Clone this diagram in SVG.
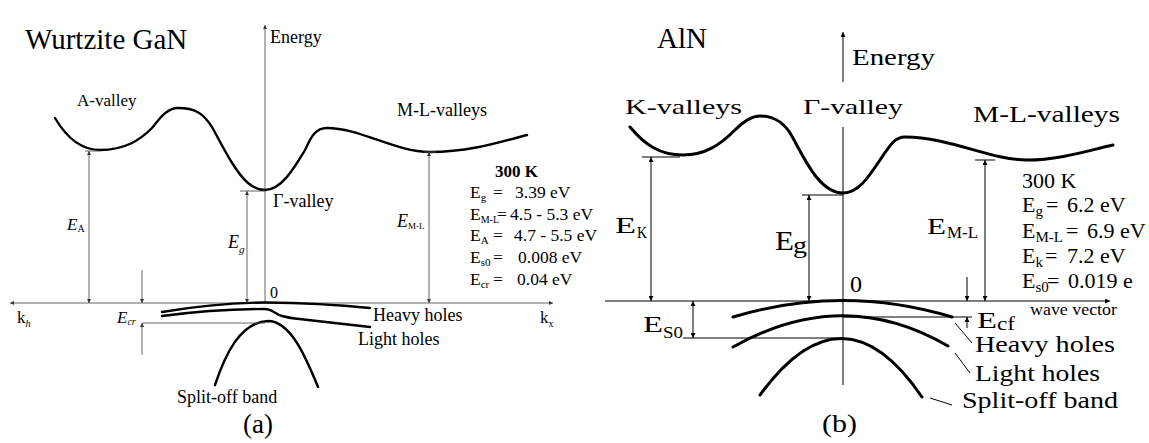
<svg xmlns="http://www.w3.org/2000/svg" width="1149" height="443" viewBox="0 0 1149 443" font-family="'Liberation Serif', 'DejaVu Serif', serif">
<style>
text{font-family:'Liberation Serif','DejaVu Serif',serif;fill:#000}
.thin{stroke:#555;stroke-width:0.9;fill:none}
.thinB{stroke:#000;stroke-width:1;fill:none}
.band{stroke:#000;stroke-width:2.4;fill:none;stroke-linecap:round}
.bandB{stroke:#000;stroke-width:3;fill:none;stroke-linecap:round}
.it{font-style:italic}
</style>
<defs>
<marker id="ah" viewBox="0 0 10 10" refX="10" refY="5" markerUnits="userSpaceOnUse" markerWidth="6" markerHeight="4" orient="auto-start-reverse"><path d="M0,0 L10,5 L0,10 z" fill="#333"/></marker>
<marker id="ahL" viewBox="0 0 10 10" refX="10" refY="5" markerUnits="userSpaceOnUse" markerWidth="9" markerHeight="5" orient="auto-start-reverse"><path d="M0,0 L10,5 L0,10 z" fill="#000"/></marker>
</defs>
<rect width="1149" height="443" fill="#fff"/>

<!-- Panel (a) GaN -->
<g id="gan">
  <text x="25" y="49" font-size="29">Wurtzite GaN</text>
  <g id="gan-axes">
    <line class="thin" x1="265" y1="303" x2="265" y2="25" marker-end="url(#ah)"/>
    <line class="thin" x1="265" y1="303" x2="10" y2="303" marker-end="url(#ah)"/>
    <line class="thin" x1="265" y1="303" x2="553" y2="303" marker-end="url(#ah)"/>
    <text x="270" y="43" font-size="18">Energy</text>
    <text x="270" y="298" font-size="16">0</text>
    <text x="17" y="323" font-size="17">k<tspan font-size="10" dy="4" class="it">h</tspan></text>
    <text x="540" y="323" font-size="17">k<tspan font-size="10" dy="4">x</tspan></text>
  </g>
  <g id="gan-conduction">
    <path class="band" d="M55,118 C65,135 80,150 100,150 C125,150 140,140 152,128 C160,118 167,108 178,108 C195,108 203,113 212,127 C222,145 235,172 248,183 C254,188 259,190 265,190 C282,190 296,165 305,150 C310,140 314,128 327,128 C360,128 395,152 430,152 C470,152 500,142 527,135"/>
    <text x="77" y="106" font-size="17">A-valley</text>
    <text x="397" y="116" font-size="18">M-L-valleys</text>
    <text x="273" y="207" font-size="18">Γ-valley</text>
  </g>
  <g id="gan-valence">
    <path class="band" d="M162,312 Q215,303 265,302.5 Q320,303 370,308"/>
    <path class="band" d="M162,316 Q215,309 265,309 C272,309 275,314 282,316 C286,317 290,318 295,318.5 L370,327"/>
    <path class="band" d="M215,385 C225,355 240,322 268,321 C290,321 305,355 318,387"/>
    <text x="373" y="321" font-size="18">Heavy holes</text>
    <text x="358" y="345" font-size="18">Light holes</text>
    <text x="177" y="403" font-size="18">Split-off band</text>
  </g>
  <g id="gan-dimensions">
    <line class="thin" x1="85" y1="151" x2="100" y2="151"/>
    <line class="thin" x1="89" y1="151" x2="89" y2="303" marker-start="url(#ah)" marker-end="url(#ah)"/>
    <line class="thin" x1="240" y1="191" x2="265" y2="191"/>
    <line class="thin" x1="247" y1="191" x2="247" y2="303" marker-start="url(#ah)" marker-end="url(#ah)"/>
    <line class="thin" x1="424" y1="152" x2="436" y2="152"/>
    <line class="thin" x1="429" y1="152" x2="429" y2="303" marker-start="url(#ah)" marker-end="url(#ah)"/>
    <line class="thin" x1="142" y1="323" x2="265" y2="323"/>
    <line class="thin" x1="142" y1="270" x2="142" y2="303" marker-end="url(#ah)"/>
    <line class="thin" x1="142" y1="355" x2="142" y2="323" marker-end="url(#ah)"/>
    <text x="67" y="230" font-size="17" class="it">E<tspan font-size="10" dy="2" font-style="normal">A</tspan></text>
    <text x="228" y="248" font-size="18" class="it">E<tspan font-size="11" dy="5">g</tspan></text>
    <text x="397" y="227" font-size="18" class="it">E<tspan font-size="9" dy="2" font-style="normal">M-L</tspan></text>
    <text x="117" y="323" font-size="17" class="it">E<tspan font-size="10" dy="2">cr</tspan></text>
  </g>
  <g id="gan-table" font-size="17.5">
    <text x="495" y="177" font-size="17" font-weight="bold">300 K</text>
    <text x="470" y="198">E<tspan font-size="11" dy="3">g</tspan><tspan x="493" dy="-3">=</tspan><tspan x="515">3.39 eV</tspan></text>
    <text x="470" y="220">E<tspan font-size="10" dy="3">M-L</tspan><tspan x="497" dy="-3">=</tspan><tspan x="510">4.5 - 5.3 eV</tspan></text>
    <text x="470" y="241">E<tspan font-size="11" dy="3">A</tspan><tspan x="493" dy="-3">=</tspan><tspan x="514">4.7 - 5.5 eV</tspan></text>
    <text x="470" y="263">E<tspan font-size="11" dy="3">s0</tspan><tspan x="493" dy="-3">=</tspan><tspan x="518">0.008 eV</tspan></text>
    <text x="470" y="285">E<tspan font-size="11" dy="3">cr</tspan><tspan x="493" dy="-3">=</tspan><tspan x="517">0.04 eV</tspan></text>
  </g>
  <text x="243" y="433" font-size="27">(a)</text>
</g>

<!-- Panel (b) AlN -->
<g id="aln">
  <text x="657" y="48" font-size="29">AlN</text>
  <g id="aln-axes">
    <line class="thinB" x1="843" y1="82" x2="843" y2="32" marker-end="url(#ahL)"/>
    <line class="thinB" x1="843" y1="127" x2="843" y2="385"/>
    <line class="thinB" x1="605" y1="301" x2="1110" y2="301" marker-end="url(#ahL)"/>
    <text x="852" y="65" font-size="23" textLength="83" lengthAdjust="spacingAndGlyphs">Energy</text>
    <text x="850" y="292" font-size="24">0</text>
    <text x="1030" y="315" font-size="17" textLength="87" lengthAdjust="spacingAndGlyphs">wave vector</text>
  </g>
  <g id="aln-conduction">
    <path class="bandB" d="M630,127 C645,145 660,155 683,155 C705,155 720,145 735,130 C745,120 752,116 760,116 C775,116 785,123 793,138 C805,160 820,193 843,193 C858,193 868,178 880,160 C890,145 895,137 905,137 C950,137 990,160 1027,160 C1060,160 1090,150 1113,145"/>
    <text x="625" y="114" font-size="22" textLength="117" lengthAdjust="spacingAndGlyphs">K-valleys</text>
    <text x="803" y="114" font-size="22" textLength="100" lengthAdjust="spacingAndGlyphs">Γ-valley</text>
    <text x="973" y="122" font-size="23" textLength="147" lengthAdjust="spacingAndGlyphs">M-L-valleys</text>
  </g>
  <g id="aln-valence">
    <path class="bandB" d="M733,317 Q843,284 952,317"/>
    <path class="bandB" d="M733,347 Q843,285 948,346"/>
    <path class="bandB" d="M760,395 Q843,281 922,397"/>
    <line class="thinB" x1="955" y1="323" x2="972" y2="343"/>
    <line class="thinB" x1="955" y1="353" x2="970" y2="373"/>
    <line class="thinB" x1="930" y1="398" x2="952" y2="405"/>
    <text x="975" y="352" font-size="23" textLength="140" lengthAdjust="spacingAndGlyphs">Heavy holes</text>
    <text x="975" y="381" font-size="23" textLength="125" lengthAdjust="spacingAndGlyphs">Light holes</text>
    <text x="962" y="408" font-size="23" textLength="156" lengthAdjust="spacingAndGlyphs">Split-off band</text>
  </g>
  <g id="aln-dimensions">
    <line class="thinB" x1="642" y1="157" x2="680" y2="157"/>
    <line class="thinB" x1="651" y1="157" x2="651" y2="301" marker-start="url(#ahL)" marker-end="url(#ahL)"/>
    <line class="thinB" x1="802" y1="195" x2="843" y2="195"/>
    <line class="thinB" x1="809" y1="195" x2="809" y2="301" marker-start="url(#ahL)" marker-end="url(#ahL)"/>
    <line class="thinB" x1="975" y1="160" x2="995" y2="160"/>
    <line class="thinB" x1="985" y1="160" x2="985" y2="301" marker-start="url(#ahL)" marker-end="url(#ahL)"/>
    <line class="thinB" x1="683" y1="338" x2="843" y2="338"/>
    <line class="thinB" x1="693" y1="301" x2="693" y2="338" marker-start="url(#ahL)" marker-end="url(#ahL)"/>
    <line class="thinB" x1="843" y1="317" x2="972" y2="317"/>
    <line class="thinB" x1="967" y1="277" x2="967" y2="301" marker-end="url(#ahL)"/>
    <line class="thinB" x1="967" y1="328" x2="967" y2="317" marker-end="url(#ahL)"/>
    <text x="615" y="233" font-size="24" textLength="21" lengthAdjust="spacingAndGlyphs">E</text>
    <text x="637" y="238" font-size="17" textLength="10" lengthAdjust="spacingAndGlyphs">K</text>
    <text x="775" y="250" font-size="28" textLength="19" lengthAdjust="spacingAndGlyphs">E</text>
    <text x="793" y="253" font-size="24" textLength="14" lengthAdjust="spacingAndGlyphs">g</text>
    <text x="927" y="234" font-size="24" textLength="19" lengthAdjust="spacingAndGlyphs">E</text>
    <text x="947" y="238" font-size="17" textLength="31" lengthAdjust="spacingAndGlyphs">M-L</text>
    <text x="643" y="332" font-size="23" textLength="20" lengthAdjust="spacingAndGlyphs">E</text>
    <text x="663" y="338" font-size="17" textLength="20" lengthAdjust="spacingAndGlyphs">S0</text>
    <text x="977" y="328" font-size="24" textLength="20" lengthAdjust="spacingAndGlyphs">E</text>
    <text x="997" y="330" font-size="19" textLength="18" lengthAdjust="spacingAndGlyphs">cf</text>
  </g>
  <g id="aln-table" font-size="22">
    <text x="1022" y="188">300 K</text>
    <text x="1022" y="212">E<tspan font-size="15" dy="4">g</tspan><tspan x="1046" dy="-4">=</tspan><tspan x="1067">6.2 eV</tspan></text>
    <text x="1022" y="238">E<tspan font-size="15" dy="4">M-L</tspan><tspan x="1066" dy="-4">=</tspan><tspan x="1087">6.9 eV</tspan></text>
    <text x="1022" y="263">E<tspan font-size="15" dy="4">k</tspan><tspan x="1045" dy="-4">=</tspan><tspan x="1067">7.2 eV</tspan></text>
    <text x="1022" y="288">E<tspan font-size="15" dy="4">s0</tspan><tspan x="1047" dy="-4">=</tspan><tspan x="1068">0.019 e</tspan></text>
  </g>
  <text x="822" y="432" font-size="26" textLength="35" lengthAdjust="spacingAndGlyphs">(b)</text>
</g>
</svg>
